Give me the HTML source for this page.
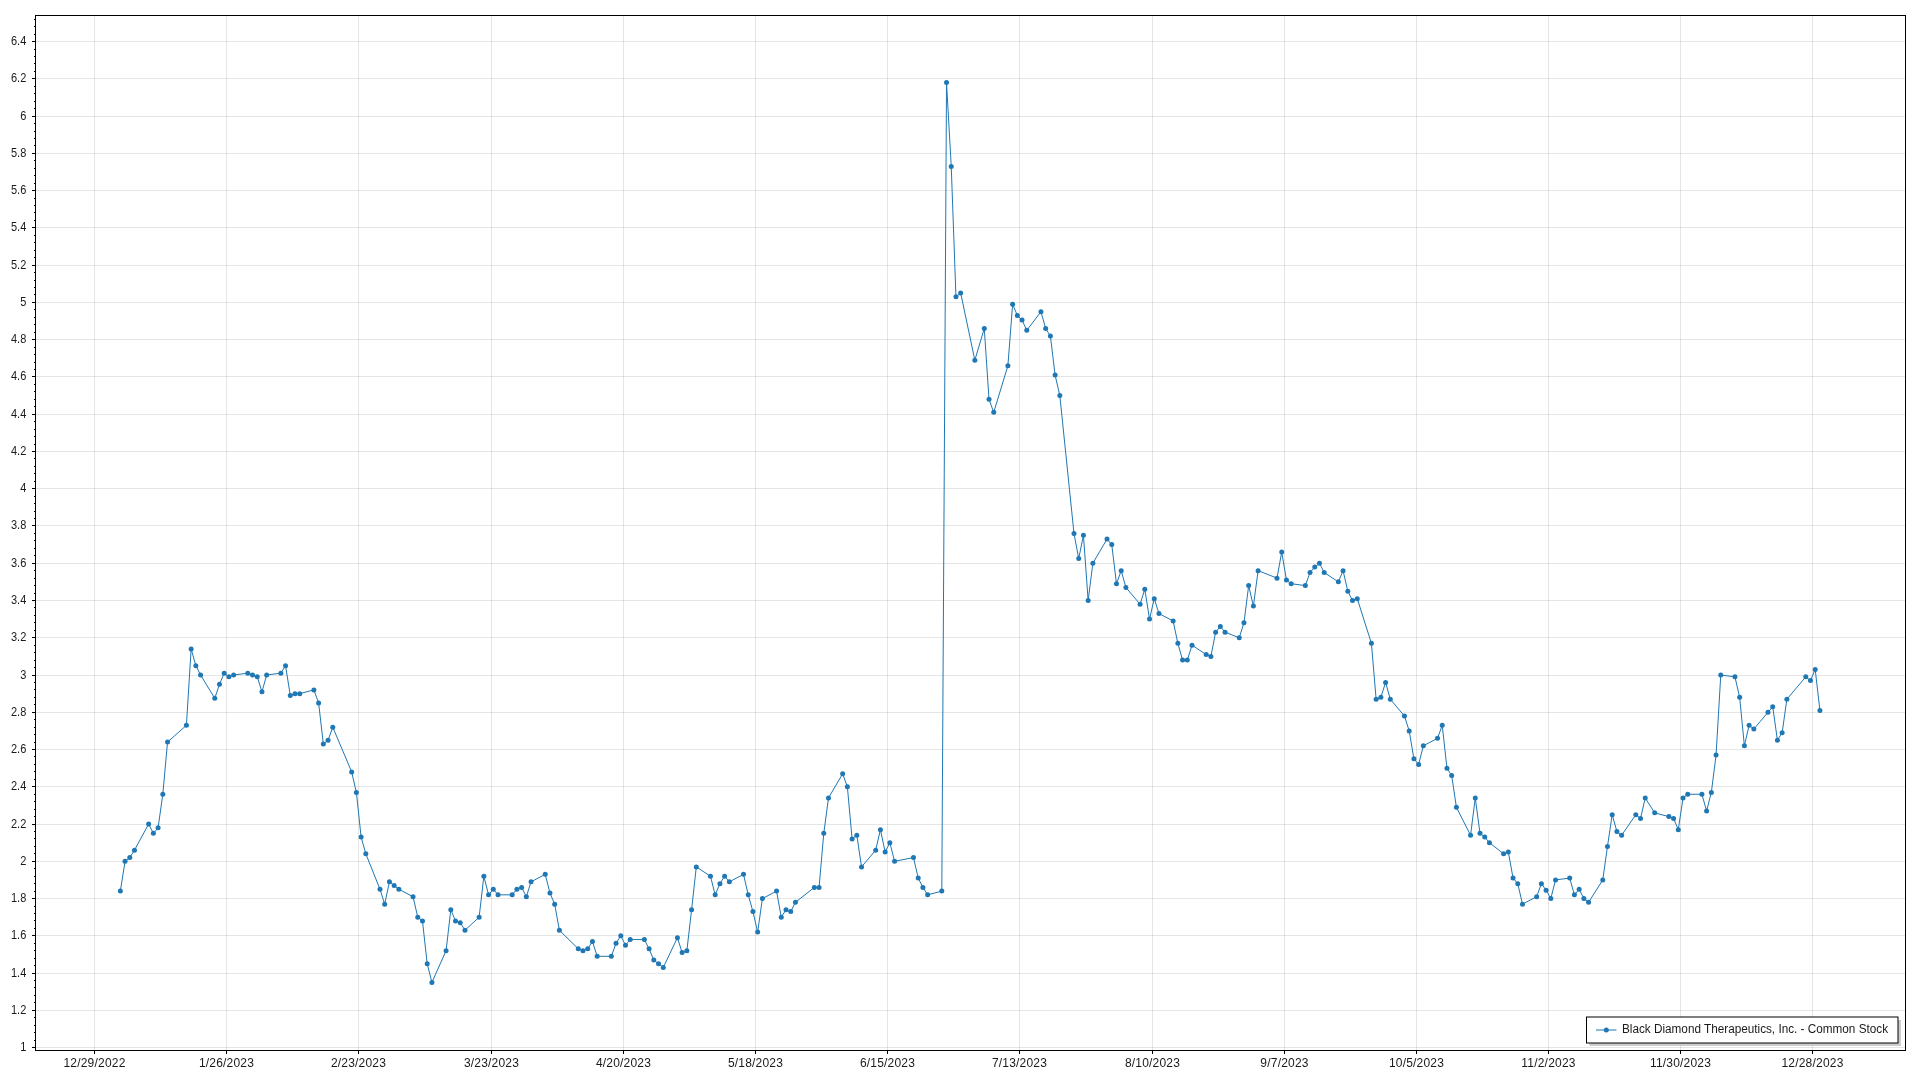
<!DOCTYPE html>
<html lang="en"><head><meta charset="utf-8"><title>Black Diamond Therapeutics, Inc. - Common Stock</title>
<style>html,body{margin:0;padding:0;background:#fff;overflow:hidden}svg{display:block}text{font-family:"Liberation Sans",sans-serif;font-size:12px;fill:#1a1a1a}svg{will-change:transform}</style></head><body>
<svg width="1920" height="1080" viewBox="0 0 1920 1080">
<rect width="1920" height="1080" fill="#fff"/>
<path d="M94.5 15.5V1050.5M226.5 15.5V1050.5M358.5 15.5V1050.5M491.5 15.5V1050.5M623.5 15.5V1050.5M755.5 15.5V1050.5M887.5 15.5V1050.5M1019.5 15.5V1050.5M1152.5 15.5V1050.5M1284.5 15.5V1050.5M1416.5 15.5V1050.5M1548.5 15.5V1050.5M1680.5 15.5V1050.5M1812.5 15.5V1050.5" stroke="#000" stroke-opacity="0.1" stroke-width="1" fill="none" shape-rendering="crispEdges"/>
<path d="M35.5 1047.5H1905.5M35.5 1010.5H1905.5M35.5 973.5H1905.5M35.5 935.5H1905.5M35.5 898.5H1905.5M35.5 861.5H1905.5M35.5 824.5H1905.5M35.5 786.5H1905.5M35.5 749.5H1905.5M35.5 712.5H1905.5M35.5 675.5H1905.5M35.5 637.5H1905.5M35.5 600.5H1905.5M35.5 563.5H1905.5M35.5 525.5H1905.5M35.5 488.5H1905.5M35.5 451.5H1905.5M35.5 414.5H1905.5M35.5 376.5H1905.5M35.5 339.5H1905.5M35.5 302.5H1905.5M35.5 265.5H1905.5M35.5 227.5H1905.5M35.5 190.5H1905.5M35.5 153.5H1905.5M35.5 116.5H1905.5M35.5 78.5H1905.5M35.5 41.5H1905.5" stroke="#000" stroke-opacity="0.1" stroke-width="1" fill="none" shape-rendering="crispEdges"/>
<path d="M120.33 891.11 L125.05 861.30 L129.77 857.58 L134.49 850.13 L148.65 824.05 L153.37 833.36 L158.09 827.77 L162.82 794.24 L167.54 742.08 L186.42 725.31 L191.14 648.93 L195.86 665.70 L200.58 675.01 L214.75 698.30 L219.47 684.32 L224.19 673.15 L228.91 676.87 L233.63 675.01 L247.80 673.15 L252.52 675.01 L257.24 676.87 L261.96 691.78 L266.68 675.01 L280.84 673.15 L285.56 665.70 L290.29 695.50 L295.01 693.64 L299.73 693.64 L313.89 689.91 L318.61 702.95 L323.33 743.94 L328.05 740.21 L332.77 727.17 L351.66 771.88 L356.38 792.38 L361.10 837.09 L365.82 853.85 L379.99 889.25 L384.71 904.15 L389.43 881.80 L394.15 885.52 L398.87 889.25 L413.03 896.70 L417.75 917.19 L422.48 920.92 L427.20 963.77 L431.92 982.40 L446.08 950.73 L450.80 909.74 L455.52 920.92 L460.24 922.78 L464.97 930.23 L479.13 917.19 L483.85 876.21 L488.57 894.84 L493.29 889.25 L498.01 894.84 L512.18 894.84 L516.90 889.25 L521.62 887.39 L526.34 896.70 L531.06 881.80 L545.22 874.35 L549.95 892.98 L554.67 904.15 L559.39 930.23 L578.27 948.86 L582.99 950.73 L587.71 948.86 L592.44 941.41 L597.16 956.32 L611.32 956.32 L616.04 943.27 L620.76 935.82 L625.48 945.14 L630.20 939.55 L644.37 939.55 L649.09 948.86 L653.81 960.04 L658.53 963.77 L663.25 967.49 L677.42 937.69 L682.14 952.59 L686.86 950.73 L691.58 909.74 L696.30 866.89 L710.46 876.21 L715.18 894.84 L719.91 883.66 L724.63 876.21 L729.35 881.80 L743.51 874.35 L748.23 894.84 L752.95 911.60 L757.67 932.10 L762.40 898.56 L776.56 891.11 L781.28 917.19 L786.00 909.74 L790.72 911.60 L795.44 902.29 L814.33 887.39 L819.05 887.39 L823.77 833.36 L828.49 797.96 L842.65 773.75 L847.37 786.79 L852.10 838.95 L856.82 835.22 L861.54 866.89 L875.70 850.13 L880.42 829.63 L885.14 851.99 L889.86 842.68 L894.59 861.30 L913.47 857.58 L918.19 878.07 L922.91 887.39 L927.63 894.84 L941.80 891.11 L946.52 82.59 L951.24 166.42 L955.96 296.83 L960.68 293.11 L974.84 360.17 L984.29 328.50 L989.01 399.29 L993.73 412.33 L1007.89 365.76 L1012.61 304.28 L1017.33 315.46 L1022.06 320.12 L1026.78 330.36 L1040.94 311.73 L1045.66 328.50 L1050.38 335.95 L1055.10 375.08 L1059.82 395.57 L1073.99 533.43 L1078.71 558.58 L1083.43 535.29 L1088.15 600.49 L1092.87 563.23 L1107.04 539.01 L1111.76 544.60 L1116.48 583.73 L1121.20 570.68 L1125.92 587.45 L1140.08 604.22 L1144.80 589.31 L1149.53 619.12 L1154.25 598.63 L1158.97 613.53 L1173.13 620.98 L1177.85 643.34 L1182.57 660.11 L1187.29 660.11 L1192.02 645.20 L1206.18 654.52 L1210.90 656.38 L1215.62 632.16 L1220.34 626.57 L1225.06 632.16 L1239.23 637.75 L1243.95 622.85 L1248.67 585.59 L1253.39 606.08 L1258.11 570.68 L1276.99 578.14 L1281.72 552.06 L1286.44 580.00 L1291.16 583.73 L1305.32 585.59 L1310.04 572.55 L1314.76 566.96 L1319.48 563.23 L1324.21 572.55 L1338.37 581.86 L1343.09 570.68 L1347.81 591.18 L1352.53 600.49 L1357.25 598.63 L1371.42 643.34 L1376.14 699.23 L1380.86 697.37 L1385.58 682.46 L1390.30 699.23 L1404.46 715.99 L1409.19 730.90 L1413.91 758.84 L1418.63 764.43 L1423.35 745.80 L1437.51 738.35 L1442.23 725.31 L1446.95 768.16 L1451.68 775.61 L1456.40 807.28 L1470.56 835.22 L1475.28 797.96 L1480.00 833.36 L1484.72 837.09 L1489.44 842.68 L1503.61 853.85 L1508.33 851.99 L1513.05 878.07 L1517.77 883.66 L1522.49 904.15 L1536.66 896.70 L1541.38 883.66 L1546.10 890.18 L1550.82 898.56 L1555.54 879.93 L1569.70 878.07 L1574.42 894.84 L1579.15 889.25 L1583.87 898.56 L1588.59 902.29 L1602.75 879.93 L1607.47 846.40 L1612.19 814.73 L1616.91 831.50 L1621.64 835.22 L1635.80 814.73 L1640.52 818.46 L1645.24 797.96 L1654.68 812.87 L1668.85 816.59 L1673.57 818.46 L1678.29 829.63 L1683.01 797.96 L1687.73 794.24 L1701.89 794.24 L1706.62 811.01 L1711.34 792.38 L1716.06 755.12 L1720.78 675.01 L1734.94 676.87 L1739.66 697.37 L1744.38 745.80 L1749.11 725.31 L1753.83 729.04 L1767.99 712.27 L1772.71 706.68 L1777.43 740.21 L1782.15 732.76 L1786.87 699.23 L1805.76 676.87 L1810.48 680.60 L1815.20 669.42 L1819.92 710.41" stroke="#1f77b4" stroke-width="1" fill="none" stroke-linejoin="round"/>
<g fill="#1f77b4">
<circle cx="120.33" cy="891.11" r="2.5"/>
<circle cx="125.05" cy="861.30" r="2.5"/>
<circle cx="129.77" cy="857.58" r="2.5"/>
<circle cx="134.49" cy="850.13" r="2.5"/>
<circle cx="148.65" cy="824.05" r="2.5"/>
<circle cx="153.37" cy="833.36" r="2.5"/>
<circle cx="158.09" cy="827.77" r="2.5"/>
<circle cx="162.82" cy="794.24" r="2.5"/>
<circle cx="167.54" cy="742.08" r="2.5"/>
<circle cx="186.42" cy="725.31" r="2.5"/>
<circle cx="191.14" cy="648.93" r="2.5"/>
<circle cx="195.86" cy="665.70" r="2.5"/>
<circle cx="200.58" cy="675.01" r="2.5"/>
<circle cx="214.75" cy="698.30" r="2.5"/>
<circle cx="219.47" cy="684.32" r="2.5"/>
<circle cx="224.19" cy="673.15" r="2.5"/>
<circle cx="228.91" cy="676.87" r="2.5"/>
<circle cx="233.63" cy="675.01" r="2.5"/>
<circle cx="247.80" cy="673.15" r="2.5"/>
<circle cx="252.52" cy="675.01" r="2.5"/>
<circle cx="257.24" cy="676.87" r="2.5"/>
<circle cx="261.96" cy="691.78" r="2.5"/>
<circle cx="266.68" cy="675.01" r="2.5"/>
<circle cx="280.84" cy="673.15" r="2.5"/>
<circle cx="285.56" cy="665.70" r="2.5"/>
<circle cx="290.29" cy="695.50" r="2.5"/>
<circle cx="295.01" cy="693.64" r="2.5"/>
<circle cx="299.73" cy="693.64" r="2.5"/>
<circle cx="313.89" cy="689.91" r="2.5"/>
<circle cx="318.61" cy="702.95" r="2.5"/>
<circle cx="323.33" cy="743.94" r="2.5"/>
<circle cx="328.05" cy="740.21" r="2.5"/>
<circle cx="332.77" cy="727.17" r="2.5"/>
<circle cx="351.66" cy="771.88" r="2.5"/>
<circle cx="356.38" cy="792.38" r="2.5"/>
<circle cx="361.10" cy="837.09" r="2.5"/>
<circle cx="365.82" cy="853.85" r="2.5"/>
<circle cx="379.99" cy="889.25" r="2.5"/>
<circle cx="384.71" cy="904.15" r="2.5"/>
<circle cx="389.43" cy="881.80" r="2.5"/>
<circle cx="394.15" cy="885.52" r="2.5"/>
<circle cx="398.87" cy="889.25" r="2.5"/>
<circle cx="413.03" cy="896.70" r="2.5"/>
<circle cx="417.75" cy="917.19" r="2.5"/>
<circle cx="422.48" cy="920.92" r="2.5"/>
<circle cx="427.20" cy="963.77" r="2.5"/>
<circle cx="431.92" cy="982.40" r="2.5"/>
<circle cx="446.08" cy="950.73" r="2.5"/>
<circle cx="450.80" cy="909.74" r="2.5"/>
<circle cx="455.52" cy="920.92" r="2.5"/>
<circle cx="460.24" cy="922.78" r="2.5"/>
<circle cx="464.97" cy="930.23" r="2.5"/>
<circle cx="479.13" cy="917.19" r="2.5"/>
<circle cx="483.85" cy="876.21" r="2.5"/>
<circle cx="488.57" cy="894.84" r="2.5"/>
<circle cx="493.29" cy="889.25" r="2.5"/>
<circle cx="498.01" cy="894.84" r="2.5"/>
<circle cx="512.18" cy="894.84" r="2.5"/>
<circle cx="516.90" cy="889.25" r="2.5"/>
<circle cx="521.62" cy="887.39" r="2.5"/>
<circle cx="526.34" cy="896.70" r="2.5"/>
<circle cx="531.06" cy="881.80" r="2.5"/>
<circle cx="545.22" cy="874.35" r="2.5"/>
<circle cx="549.95" cy="892.98" r="2.5"/>
<circle cx="554.67" cy="904.15" r="2.5"/>
<circle cx="559.39" cy="930.23" r="2.5"/>
<circle cx="578.27" cy="948.86" r="2.5"/>
<circle cx="582.99" cy="950.73" r="2.5"/>
<circle cx="587.71" cy="948.86" r="2.5"/>
<circle cx="592.44" cy="941.41" r="2.5"/>
<circle cx="597.16" cy="956.32" r="2.5"/>
<circle cx="611.32" cy="956.32" r="2.5"/>
<circle cx="616.04" cy="943.27" r="2.5"/>
<circle cx="620.76" cy="935.82" r="2.5"/>
<circle cx="625.48" cy="945.14" r="2.5"/>
<circle cx="630.20" cy="939.55" r="2.5"/>
<circle cx="644.37" cy="939.55" r="2.5"/>
<circle cx="649.09" cy="948.86" r="2.5"/>
<circle cx="653.81" cy="960.04" r="2.5"/>
<circle cx="658.53" cy="963.77" r="2.5"/>
<circle cx="663.25" cy="967.49" r="2.5"/>
<circle cx="677.42" cy="937.69" r="2.5"/>
<circle cx="682.14" cy="952.59" r="2.5"/>
<circle cx="686.86" cy="950.73" r="2.5"/>
<circle cx="691.58" cy="909.74" r="2.5"/>
<circle cx="696.30" cy="866.89" r="2.5"/>
<circle cx="710.46" cy="876.21" r="2.5"/>
<circle cx="715.18" cy="894.84" r="2.5"/>
<circle cx="719.91" cy="883.66" r="2.5"/>
<circle cx="724.63" cy="876.21" r="2.5"/>
<circle cx="729.35" cy="881.80" r="2.5"/>
<circle cx="743.51" cy="874.35" r="2.5"/>
<circle cx="748.23" cy="894.84" r="2.5"/>
<circle cx="752.95" cy="911.60" r="2.5"/>
<circle cx="757.67" cy="932.10" r="2.5"/>
<circle cx="762.40" cy="898.56" r="2.5"/>
<circle cx="776.56" cy="891.11" r="2.5"/>
<circle cx="781.28" cy="917.19" r="2.5"/>
<circle cx="786.00" cy="909.74" r="2.5"/>
<circle cx="790.72" cy="911.60" r="2.5"/>
<circle cx="795.44" cy="902.29" r="2.5"/>
<circle cx="814.33" cy="887.39" r="2.5"/>
<circle cx="819.05" cy="887.39" r="2.5"/>
<circle cx="823.77" cy="833.36" r="2.5"/>
<circle cx="828.49" cy="797.96" r="2.5"/>
<circle cx="842.65" cy="773.75" r="2.5"/>
<circle cx="847.37" cy="786.79" r="2.5"/>
<circle cx="852.10" cy="838.95" r="2.5"/>
<circle cx="856.82" cy="835.22" r="2.5"/>
<circle cx="861.54" cy="866.89" r="2.5"/>
<circle cx="875.70" cy="850.13" r="2.5"/>
<circle cx="880.42" cy="829.63" r="2.5"/>
<circle cx="885.14" cy="851.99" r="2.5"/>
<circle cx="889.86" cy="842.68" r="2.5"/>
<circle cx="894.59" cy="861.30" r="2.5"/>
<circle cx="913.47" cy="857.58" r="2.5"/>
<circle cx="918.19" cy="878.07" r="2.5"/>
<circle cx="922.91" cy="887.39" r="2.5"/>
<circle cx="927.63" cy="894.84" r="2.5"/>
<circle cx="941.80" cy="891.11" r="2.5"/>
<circle cx="946.52" cy="82.59" r="2.5"/>
<circle cx="951.24" cy="166.42" r="2.5"/>
<circle cx="955.96" cy="296.83" r="2.5"/>
<circle cx="960.68" cy="293.11" r="2.5"/>
<circle cx="974.84" cy="360.17" r="2.5"/>
<circle cx="984.29" cy="328.50" r="2.5"/>
<circle cx="989.01" cy="399.29" r="2.5"/>
<circle cx="993.73" cy="412.33" r="2.5"/>
<circle cx="1007.89" cy="365.76" r="2.5"/>
<circle cx="1012.61" cy="304.28" r="2.5"/>
<circle cx="1017.33" cy="315.46" r="2.5"/>
<circle cx="1022.06" cy="320.12" r="2.5"/>
<circle cx="1026.78" cy="330.36" r="2.5"/>
<circle cx="1040.94" cy="311.73" r="2.5"/>
<circle cx="1045.66" cy="328.50" r="2.5"/>
<circle cx="1050.38" cy="335.95" r="2.5"/>
<circle cx="1055.10" cy="375.08" r="2.5"/>
<circle cx="1059.82" cy="395.57" r="2.5"/>
<circle cx="1073.99" cy="533.43" r="2.5"/>
<circle cx="1078.71" cy="558.58" r="2.5"/>
<circle cx="1083.43" cy="535.29" r="2.5"/>
<circle cx="1088.15" cy="600.49" r="2.5"/>
<circle cx="1092.87" cy="563.23" r="2.5"/>
<circle cx="1107.04" cy="539.01" r="2.5"/>
<circle cx="1111.76" cy="544.60" r="2.5"/>
<circle cx="1116.48" cy="583.73" r="2.5"/>
<circle cx="1121.20" cy="570.68" r="2.5"/>
<circle cx="1125.92" cy="587.45" r="2.5"/>
<circle cx="1140.08" cy="604.22" r="2.5"/>
<circle cx="1144.80" cy="589.31" r="2.5"/>
<circle cx="1149.53" cy="619.12" r="2.5"/>
<circle cx="1154.25" cy="598.63" r="2.5"/>
<circle cx="1158.97" cy="613.53" r="2.5"/>
<circle cx="1173.13" cy="620.98" r="2.5"/>
<circle cx="1177.85" cy="643.34" r="2.5"/>
<circle cx="1182.57" cy="660.11" r="2.5"/>
<circle cx="1187.29" cy="660.11" r="2.5"/>
<circle cx="1192.02" cy="645.20" r="2.5"/>
<circle cx="1206.18" cy="654.52" r="2.5"/>
<circle cx="1210.90" cy="656.38" r="2.5"/>
<circle cx="1215.62" cy="632.16" r="2.5"/>
<circle cx="1220.34" cy="626.57" r="2.5"/>
<circle cx="1225.06" cy="632.16" r="2.5"/>
<circle cx="1239.23" cy="637.75" r="2.5"/>
<circle cx="1243.95" cy="622.85" r="2.5"/>
<circle cx="1248.67" cy="585.59" r="2.5"/>
<circle cx="1253.39" cy="606.08" r="2.5"/>
<circle cx="1258.11" cy="570.68" r="2.5"/>
<circle cx="1276.99" cy="578.14" r="2.5"/>
<circle cx="1281.72" cy="552.06" r="2.5"/>
<circle cx="1286.44" cy="580.00" r="2.5"/>
<circle cx="1291.16" cy="583.73" r="2.5"/>
<circle cx="1305.32" cy="585.59" r="2.5"/>
<circle cx="1310.04" cy="572.55" r="2.5"/>
<circle cx="1314.76" cy="566.96" r="2.5"/>
<circle cx="1319.48" cy="563.23" r="2.5"/>
<circle cx="1324.21" cy="572.55" r="2.5"/>
<circle cx="1338.37" cy="581.86" r="2.5"/>
<circle cx="1343.09" cy="570.68" r="2.5"/>
<circle cx="1347.81" cy="591.18" r="2.5"/>
<circle cx="1352.53" cy="600.49" r="2.5"/>
<circle cx="1357.25" cy="598.63" r="2.5"/>
<circle cx="1371.42" cy="643.34" r="2.5"/>
<circle cx="1376.14" cy="699.23" r="2.5"/>
<circle cx="1380.86" cy="697.37" r="2.5"/>
<circle cx="1385.58" cy="682.46" r="2.5"/>
<circle cx="1390.30" cy="699.23" r="2.5"/>
<circle cx="1404.46" cy="715.99" r="2.5"/>
<circle cx="1409.19" cy="730.90" r="2.5"/>
<circle cx="1413.91" cy="758.84" r="2.5"/>
<circle cx="1418.63" cy="764.43" r="2.5"/>
<circle cx="1423.35" cy="745.80" r="2.5"/>
<circle cx="1437.51" cy="738.35" r="2.5"/>
<circle cx="1442.23" cy="725.31" r="2.5"/>
<circle cx="1446.95" cy="768.16" r="2.5"/>
<circle cx="1451.68" cy="775.61" r="2.5"/>
<circle cx="1456.40" cy="807.28" r="2.5"/>
<circle cx="1470.56" cy="835.22" r="2.5"/>
<circle cx="1475.28" cy="797.96" r="2.5"/>
<circle cx="1480.00" cy="833.36" r="2.5"/>
<circle cx="1484.72" cy="837.09" r="2.5"/>
<circle cx="1489.44" cy="842.68" r="2.5"/>
<circle cx="1503.61" cy="853.85" r="2.5"/>
<circle cx="1508.33" cy="851.99" r="2.5"/>
<circle cx="1513.05" cy="878.07" r="2.5"/>
<circle cx="1517.77" cy="883.66" r="2.5"/>
<circle cx="1522.49" cy="904.15" r="2.5"/>
<circle cx="1536.66" cy="896.70" r="2.5"/>
<circle cx="1541.38" cy="883.66" r="2.5"/>
<circle cx="1546.10" cy="890.18" r="2.5"/>
<circle cx="1550.82" cy="898.56" r="2.5"/>
<circle cx="1555.54" cy="879.93" r="2.5"/>
<circle cx="1569.70" cy="878.07" r="2.5"/>
<circle cx="1574.42" cy="894.84" r="2.5"/>
<circle cx="1579.15" cy="889.25" r="2.5"/>
<circle cx="1583.87" cy="898.56" r="2.5"/>
<circle cx="1588.59" cy="902.29" r="2.5"/>
<circle cx="1602.75" cy="879.93" r="2.5"/>
<circle cx="1607.47" cy="846.40" r="2.5"/>
<circle cx="1612.19" cy="814.73" r="2.5"/>
<circle cx="1616.91" cy="831.50" r="2.5"/>
<circle cx="1621.64" cy="835.22" r="2.5"/>
<circle cx="1635.80" cy="814.73" r="2.5"/>
<circle cx="1640.52" cy="818.46" r="2.5"/>
<circle cx="1645.24" cy="797.96" r="2.5"/>
<circle cx="1654.68" cy="812.87" r="2.5"/>
<circle cx="1668.85" cy="816.59" r="2.5"/>
<circle cx="1673.57" cy="818.46" r="2.5"/>
<circle cx="1678.29" cy="829.63" r="2.5"/>
<circle cx="1683.01" cy="797.96" r="2.5"/>
<circle cx="1687.73" cy="794.24" r="2.5"/>
<circle cx="1701.89" cy="794.24" r="2.5"/>
<circle cx="1706.62" cy="811.01" r="2.5"/>
<circle cx="1711.34" cy="792.38" r="2.5"/>
<circle cx="1716.06" cy="755.12" r="2.5"/>
<circle cx="1720.78" cy="675.01" r="2.5"/>
<circle cx="1734.94" cy="676.87" r="2.5"/>
<circle cx="1739.66" cy="697.37" r="2.5"/>
<circle cx="1744.38" cy="745.80" r="2.5"/>
<circle cx="1749.11" cy="725.31" r="2.5"/>
<circle cx="1753.83" cy="729.04" r="2.5"/>
<circle cx="1767.99" cy="712.27" r="2.5"/>
<circle cx="1772.71" cy="706.68" r="2.5"/>
<circle cx="1777.43" cy="740.21" r="2.5"/>
<circle cx="1782.15" cy="732.76" r="2.5"/>
<circle cx="1786.87" cy="699.23" r="2.5"/>
<circle cx="1805.76" cy="676.87" r="2.5"/>
<circle cx="1810.48" cy="680.60" r="2.5"/>
<circle cx="1815.20" cy="669.42" r="2.5"/>
<circle cx="1819.92" cy="710.41" r="2.5"/>
</g>
<rect x="35.5" y="15.5" width="1870.0" height="1035.0" fill="none" stroke="#000" stroke-width="1" shape-rendering="crispEdges"/>
<path d="M94.5 1050.5V1054.0M226.5 1050.5V1054.0M358.5 1050.5V1054.0M491.5 1050.5V1054.0M623.5 1050.5V1054.0M755.5 1050.5V1054.0M887.5 1050.5V1054.0M1019.5 1050.5V1054.0M1152.5 1050.5V1054.0M1284.5 1050.5V1054.0M1416.5 1050.5V1054.0M1548.5 1050.5V1054.0M1680.5 1050.5V1054.0M1812.5 1050.5V1054.0M31.5 1047.5H35.5M31.5 1010.5H35.5M31.5 973.5H35.5M31.5 935.5H35.5M31.5 898.5H35.5M31.5 861.5H35.5M31.5 824.5H35.5M31.5 786.5H35.5M31.5 749.5H35.5M31.5 712.5H35.5M31.5 675.5H35.5M31.5 637.5H35.5M31.5 600.5H35.5M31.5 563.5H35.5M31.5 525.5H35.5M31.5 488.5H35.5M31.5 451.5H35.5M31.5 414.5H35.5M31.5 376.5H35.5M31.5 339.5H35.5M31.5 302.5H35.5M31.5 265.5H35.5M31.5 227.5H35.5M31.5 190.5H35.5M31.5 153.5H35.5M31.5 116.5H35.5M31.5 78.5H35.5M31.5 41.5H35.5M33.5 1040.5H35.5M33.5 1032.5H35.5M33.5 1025.5H35.5M33.5 1017.5H35.5M33.5 1002.5H35.5M33.5 995.5H35.5M33.5 987.5H35.5M33.5 980.5H35.5M33.5 965.5H35.5M33.5 958.5H35.5M33.5 950.5H35.5M33.5 943.5H35.5M33.5 928.5H35.5M33.5 920.5H35.5M33.5 913.5H35.5M33.5 906.5H35.5M33.5 891.5H35.5M33.5 883.5H35.5M33.5 876.5H35.5M33.5 868.5H35.5M33.5 853.5H35.5M33.5 846.5H35.5M33.5 838.5H35.5M33.5 831.5H35.5M33.5 816.5H35.5M33.5 809.5H35.5M33.5 801.5H35.5M33.5 794.5H35.5M33.5 779.5H35.5M33.5 771.5H35.5M33.5 764.5H35.5M33.5 756.5H35.5M33.5 742.5H35.5M33.5 734.5H35.5M33.5 727.5H35.5M33.5 719.5H35.5M33.5 704.5H35.5M33.5 697.5H35.5M33.5 689.5H35.5M33.5 682.5H35.5M33.5 667.5H35.5M33.5 660.5H35.5M33.5 652.5H35.5M33.5 645.5H35.5M33.5 630.5H35.5M33.5 622.5H35.5M33.5 615.5H35.5M33.5 607.5H35.5M33.5 593.5H35.5M33.5 585.5H35.5M33.5 578.5H35.5M33.5 570.5H35.5M33.5 555.5H35.5M33.5 548.5H35.5M33.5 540.5H35.5M33.5 533.5H35.5M33.5 518.5H35.5M33.5 511.5H35.5M33.5 503.5H35.5M33.5 496.5H35.5M33.5 481.5H35.5M33.5 473.5H35.5M33.5 466.5H35.5M33.5 458.5H35.5M33.5 444.5H35.5M33.5 436.5H35.5M33.5 429.5H35.5M33.5 421.5H35.5M33.5 406.5H35.5M33.5 399.5H35.5M33.5 391.5H35.5M33.5 384.5H35.5M33.5 369.5H35.5M33.5 362.5H35.5M33.5 354.5H35.5M33.5 347.5H35.5M33.5 332.5H35.5M33.5 324.5H35.5M33.5 317.5H35.5M33.5 309.5H35.5M33.5 294.5H35.5M33.5 287.5H35.5M33.5 280.5H35.5M33.5 272.5H35.5M33.5 257.5H35.5M33.5 250.5H35.5M33.5 242.5H35.5M33.5 235.5H35.5M33.5 220.5H35.5M33.5 212.5H35.5M33.5 205.5H35.5M33.5 198.5H35.5M33.5 183.5H35.5M33.5 175.5H35.5M33.5 168.5H35.5M33.5 160.5H35.5M33.5 145.5H35.5M33.5 138.5H35.5M33.5 131.5H35.5M33.5 123.5H35.5M33.5 108.5H35.5M33.5 101.5H35.5M33.5 93.5H35.5M33.5 86.5H35.5M33.5 71.5H35.5M33.5 63.5H35.5M33.5 56.5H35.5M33.5 49.5H35.5M33.5 34.5H35.5M33.5 26.5H35.5M33.5 19.5H35.5" stroke="#000" stroke-width="1" fill="none" shape-rendering="crispEdges"/>
<g class="yl">
<text transform="translate(26.3 1051.0) scale(0.92 1)" text-anchor="end">1</text>
<text transform="translate(26.3 1014.0) scale(0.92 1)" text-anchor="end">1.2</text>
<text transform="translate(26.3 977.0) scale(0.92 1)" text-anchor="end">1.4</text>
<text transform="translate(26.3 939.0) scale(0.92 1)" text-anchor="end">1.6</text>
<text transform="translate(26.3 902.0) scale(0.92 1)" text-anchor="end">1.8</text>
<text transform="translate(26.3 865.0) scale(0.92 1)" text-anchor="end">2</text>
<text transform="translate(26.3 828.0) scale(0.92 1)" text-anchor="end">2.2</text>
<text transform="translate(26.3 790.0) scale(0.92 1)" text-anchor="end">2.4</text>
<text transform="translate(26.3 753.0) scale(0.92 1)" text-anchor="end">2.6</text>
<text transform="translate(26.3 716.0) scale(0.92 1)" text-anchor="end">2.8</text>
<text transform="translate(26.3 679.0) scale(0.92 1)" text-anchor="end">3</text>
<text transform="translate(26.3 641.0) scale(0.92 1)" text-anchor="end">3.2</text>
<text transform="translate(26.3 604.0) scale(0.92 1)" text-anchor="end">3.4</text>
<text transform="translate(26.3 567.0) scale(0.92 1)" text-anchor="end">3.6</text>
<text transform="translate(26.3 529.0) scale(0.92 1)" text-anchor="end">3.8</text>
<text transform="translate(26.3 492.0) scale(0.92 1)" text-anchor="end">4</text>
<text transform="translate(26.3 455.0) scale(0.92 1)" text-anchor="end">4.2</text>
<text transform="translate(26.3 418.0) scale(0.92 1)" text-anchor="end">4.4</text>
<text transform="translate(26.3 380.0) scale(0.92 1)" text-anchor="end">4.6</text>
<text transform="translate(26.3 343.0) scale(0.92 1)" text-anchor="end">4.8</text>
<text transform="translate(26.3 306.0) scale(0.92 1)" text-anchor="end">5</text>
<text transform="translate(26.3 269.0) scale(0.92 1)" text-anchor="end">5.2</text>
<text transform="translate(26.3 231.0) scale(0.92 1)" text-anchor="end">5.4</text>
<text transform="translate(26.3 194.0) scale(0.92 1)" text-anchor="end">5.6</text>
<text transform="translate(26.3 157.0) scale(0.92 1)" text-anchor="end">5.8</text>
<text transform="translate(26.3 120.0) scale(0.92 1)" text-anchor="end">6</text>
<text transform="translate(26.3 82.0) scale(0.92 1)" text-anchor="end">6.2</text>
<text transform="translate(26.3 45.0) scale(0.92 1)" text-anchor="end">6.4</text>
</g>
<text x="94.5" y="1067" text-anchor="middle" letter-spacing="0.2">12/29/2022</text>
<text x="226.5" y="1067" text-anchor="middle" letter-spacing="0.2">1/26/2023</text>
<text x="358.5" y="1067" text-anchor="middle" letter-spacing="0.2">2/23/2023</text>
<text x="491.5" y="1067" text-anchor="middle" letter-spacing="0.2">3/23/2023</text>
<text x="623.5" y="1067" text-anchor="middle" letter-spacing="0.2">4/20/2023</text>
<text x="755.5" y="1067" text-anchor="middle" letter-spacing="0.2">5/18/2023</text>
<text x="887.5" y="1067" text-anchor="middle" letter-spacing="0.2">6/15/2023</text>
<text x="1019.5" y="1067" text-anchor="middle" letter-spacing="0.2">7/13/2023</text>
<text x="1152.5" y="1067" text-anchor="middle" letter-spacing="0.2">8/10/2023</text>
<text x="1284.5" y="1067" text-anchor="middle" letter-spacing="0.2">9/7/2023</text>
<text x="1416.5" y="1067" text-anchor="middle" letter-spacing="0.2">10/5/2023</text>
<text x="1548.5" y="1067" text-anchor="middle" letter-spacing="0.2">11/2/2023</text>
<text x="1680.5" y="1067" text-anchor="middle" letter-spacing="0.2">11/30/2023</text>
<text x="1812.5" y="1067" text-anchor="middle" letter-spacing="0.2">12/28/2023</text>
<rect x="1589.5" y="1020" width="311.5" height="26" fill="#cdcdcd"/>
<rect x="1586.5" y="1017" width="311.5" height="26" fill="#fff" stroke="#000" stroke-width="1"/>
<path d="M1596 1030H1616.5" stroke="#1f77b4" stroke-width="1"/>
<circle cx="1606.3" cy="1030" r="2.5" fill="#1f77b4"/>
<text x="1622" y="1033" textLength="266" lengthAdjust="spacingAndGlyphs">Black Diamond Therapeutics, Inc. - Common Stock</text>
</svg></body></html>
